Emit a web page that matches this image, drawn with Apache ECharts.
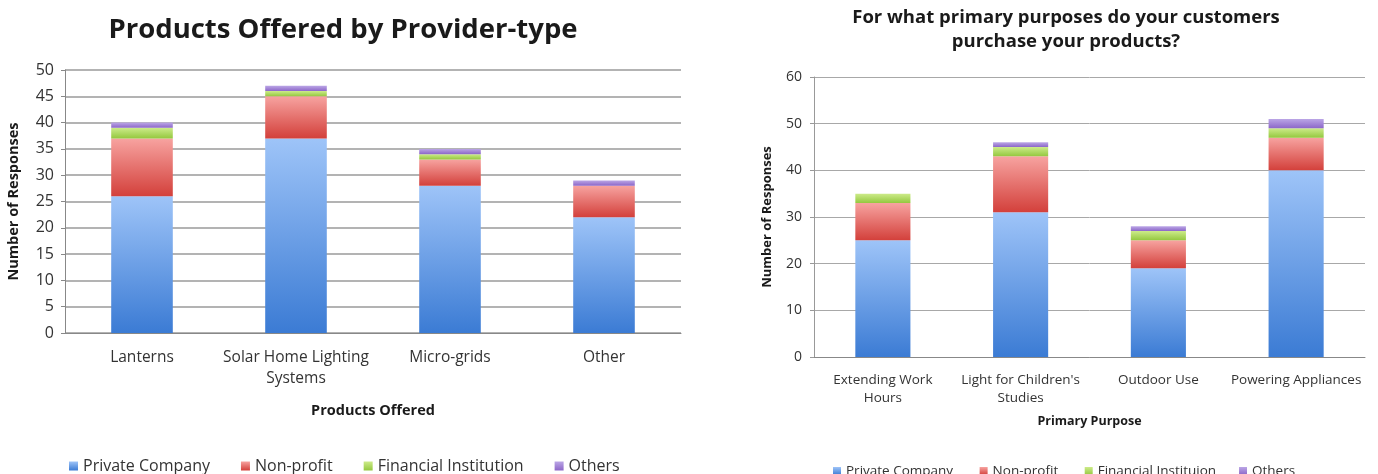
<!DOCTYPE html>
<html>
<head>
<meta charset="utf-8">
<script src="https://cdn.jsdelivr.net/npm/echarts@6/dist/echarts.min.js"></script>
<style>
  html, body { margin: 0; padding: 0; background: #fff; }
  #chart { width: 1378px; height: 474px; }
</style>
</head>
<body>
<div id="chart"></div>
<script>
// Left panel: products offered, stacked by provider type
const productCategories = ['Lanterns', 'Solar Home Lighting\nSystems', 'Micro-grids', 'Other'];
const productPrivate   = [26, 37, 28, 22];
const productNonprofit = [11, 8, 5, 6];
const productFinancial = [2, 1, 1, 0];
const productOthers    = [1, 1, 1, 1];
const productTicks = [0, 5, 10, 15, 20, 25, 30, 35, 40, 45, 50];

// Right panel: primary purchase purposes, stacked by provider type
const purposeCategories = ['Extending Work\nHours', "Light for Children's\nStudies", 'Outdoor Use', 'Powering Appliances'];
const purposePrivate   = [25, 31, 19, 40];
const purposeNonprofit = [8, 12, 6, 7];
const purposeFinancial = [2, 2, 2, 2];
const purposeOthers    = [0, 1, 1, 2];
const purposeTicks = [0, 10, 20, 30, 40, 50, 60];

const legendLeft  = ['Private Company', 'Non-profit', 'Financial Institution', 'Others'];
const legendRight = ['Private Company ', 'Non-profit ', 'Financial Instituion', 'Others '];

const FONT = '"Open Sans", Lato, sans-serif';
const grad = (top, bottom) => new echarts.graphic.LinearGradient(0, 0, 0, 1, [
  { offset: 0, color: top }, { offset: 1, color: bottom }
]);
const fills = [
  grad('#9ec4f8', '#3b7bd4'),
  grad('#f7a3a0', '#d3403b'),
  grad('#cdeb8a', '#94c83f'),
  grad('#bba6e6', '#8c66c8')
];
const flatColors = ['#5a93e0', '#e0605c', '#a8d45a', '#9d7fd4'];

function stackSeries(names, values, gridIdx, stackName) {
  return names.map((n, i) => ({
    name: n,
    type: 'bar',
    stack: stackName,
    xAxisIndex: gridIdx,
    yAxisIndex: gridIdx,
    barWidth: '40%',
    data: values[i],
    itemStyle: { color: fills[i] },
    emphasis: { disabled: true }
  }));
}

const chart = echarts.init(document.getElementById('chart'), null, { renderer: 'canvas' });

chart.setOption({
  animation: false,
  color: flatColors,
  textStyle: { fontFamily: FONT },
  title: [
    {
      text: 'Products Offered by Provider-type',
      left: 338, top: 11, textAlign: 'center',
      textStyle: { fontFamily: FONT, fontSize: 27.5, fontWeight: 'bold', color: '#1a1a1a' }
    },
    {
      text: 'For what primary purposes do your customers\npurchase your products?',
      left: 1061, top: 1, textAlign: 'center',
      textStyle: { fontFamily: FONT, fontSize: 18.5, fontWeight: 'bold', color: '#1a1a1a', lineHeight: 24 }
    }
  ],
  legend: [
    {
      data: legendLeft, left: 64, top: 453, icon: 'rect',
      itemWidth: 9, itemHeight: 9, itemGap: 31,
      textStyle: { fontFamily: FONT, fontSize: 16, color: '#333' }
    },
    {
      data: legendRight, left: 828, top: 459, icon: 'rect',
      itemWidth: 8, itemHeight: 8, itemGap: 23,
      textStyle: { fontFamily: FONT, fontSize: 13.5, color: '#333' }
    }
  ],
  grid: [
    { left: 65, right: 697, top: 70, bottom: 141 },
    { left: 814, right: 13, top: 77, bottom: 117 }
  ],
  xAxis: [
    {
      type: 'category', gridIndex: 0, data: productCategories,
      axisLine: { lineStyle: { color: '#888' } },
      axisTick: { length: 5, lineStyle: { color: '#888' } },
      axisLabel: { interval: 0, fontFamily: FONT, fontSize: 15.5, color: '#333', lineHeight: 21, margin: 14 },
      name: 'Products Offered', nameLocation: 'middle', nameGap: 70,
      nameTextStyle: { fontFamily: FONT, fontSize: 14.5, fontWeight: 'bold', color: '#1a1a1a' }
    },
    {
      type: 'category', gridIndex: 1, data: purposeCategories,
      axisLine: { lineStyle: { color: '#888' } },
      axisTick: { length: 5, lineStyle: { color: '#888' } },
      axisLabel: { interval: 0, fontFamily: FONT, fontSize: 13.5, color: '#333', lineHeight: 18, margin: 14 },
      name: 'Primary Purpose', nameLocation: 'middle', nameGap: 58,
      nameTextStyle: { fontFamily: FONT, fontSize: 12.5, fontWeight: 'bold', color: '#1a1a1a' }
    }
  ],
  yAxis: [
    {
      type: 'value', gridIndex: 0,
      min: productTicks[0], max: productTicks[productTicks.length - 1], interval: productTicks[1] - productTicks[0],
      axisLine: { show: true, lineStyle: { color: '#888' } },
      axisTick: { show: true, length: 4, lineStyle: { color: '#888' } },
      axisLabel: { fontFamily: FONT, fontSize: 16, color: '#333', margin: 11 },
      splitLine: { lineStyle: { color: '#9a9a9a', width: 1.5 } },
      name: 'Number of Responses', nameLocation: 'middle', nameGap: 44,
      nameTextStyle: { fontFamily: FONT, fontSize: 14.5, fontWeight: 'bold', color: '#1a1a1a' }
    },
    {
      type: 'value', gridIndex: 1,
      min: purposeTicks[0], max: purposeTicks[purposeTicks.length - 1], interval: purposeTicks[1] - purposeTicks[0],
      axisLine: { show: true, lineStyle: { color: '#999' } },
      axisTick: { show: true, length: 4, lineStyle: { color: '#999' } },
      axisLabel: { fontFamily: FONT, fontSize: 14, color: '#333', margin: 12 },
      splitLine: { lineStyle: { color: '#a8a8a8', width: 1 } },
      name: 'Number of Responses', nameLocation: 'middle', nameGap: 40,
      nameTextStyle: { fontFamily: FONT, fontSize: 13, fontWeight: 'bold', color: '#1a1a1a' }
    }
  ],
  series: [
    ...stackSeries(legendLeft, [productPrivate, productNonprofit, productFinancial, productOthers], 0, 'products'),
    ...stackSeries(legendRight, [purposePrivate, purposeNonprofit, purposeFinancial, purposeOthers], 1, 'purposes')
  ]
});
</script>
</body>
</html>
